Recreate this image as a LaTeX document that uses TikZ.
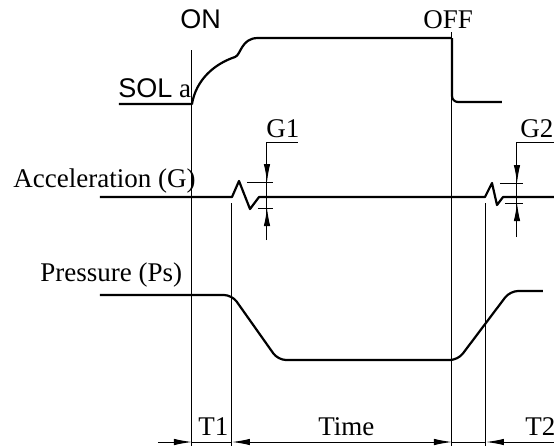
\documentclass[tikz,border=0pt]{standalone}
\usepackage{fontspec}
\setmainfont{Liberation Serif}
\setsansfont{Liberation Sans}
\usetikzlibrary{arrows.meta}

\begin{document}
\begin{tikzpicture}[
    x=0.5pt, y=-0.5pt,
    >={Latex[length=9pt,width=3.2pt]},
    font=\fontsize{13.5}{16}\selectfont,
    trace/.style={line width=1.1pt, line join=round},
    guide/.style={line width=0.5pt},
    lbl/.style={inner sep=0pt, anchor=base west}
  ]
  \useasboundingbox (0,0) rectangle (554,446);

  \def\tOn{192}
  \def\tA{232}
  \def\tOff{452}
  \def\tB{486}
  \def\yDim{442}

  % time marks
  \coordinate (OnTop) at (\tOn,50);
  \coordinate (ATop) at (\tA,203);
  \coordinate (OffTop) at (\tOff,32);
  \coordinate (BTop) at (\tB,203);
  \coordinate (DimL) at (158,\yDim);
  \coordinate (DimOn) at (\tOn,\yDim);
  \coordinate (DimA) at (\tA,\yDim);
  \coordinate (DimOff) at (\tOff,\yDim);
  \coordinate (DimB) at (\tB,\yDim);
  \coordinate (DimR) at (554,\yDim);

  \draw[guide] (OnTop) -- (\tOn,446);
  \draw[guide] (ATop) -- (\tA,446);
  \draw[guide] (OffTop) -- (\tOff,446);
  \draw[guide] (BTop) -- (\tB,446);

  % SOL a signal
  \draw[trace] (119,104) -- (\tOn,104)
    .. controls (196,80) and (214,64) .. (235,57)
    .. controls (241,55) and (241,38) .. (258,38) -- (\tOff,38);
  \draw[trace, rounded corners=3pt] (\tOff,38) -- (\tOff,102) -- (502,102);
  \node[lbl] (sol) at (118,97) {{\sffamily SOL} a};
  \node[lbl] (on) at (180,28) {\sffamily ON};
  \node[lbl] (off) at (423,28) {OFF};

  % acceleration
  \draw[trace] (100,197) -- (\tA,197) -- (239,181) -- (250,209) -- (259,197)
    -- (485,197) -- (492,183) -- (497,205) -- (503,197) -- (554,197);
  \node[lbl] (acc) at (13,187) {Acceleration (G)};

  % G1 and G2 gaps
  \coordinate (G1lead) at (298,142);
  \coordinate (G1top) at (267,142);
  \coordinate (G1hi) at (267,182);
  \coordinate (G1lo) at (267,208);
  \coordinate (G1bot) at (267,240);
  \draw[guide] (G1lead) -- (G1top) -- (G1bot);
  \draw[guide, ->] (G1top) -- (G1hi);
  \draw[guide, ->] (G1bot) -- (G1lo);
  \draw[guide] (247,182) -- (273,182) (258,208) -- (273,208);
  \node[lbl] (g1) at (266,137) {G1};

  \coordinate (G2lead) at (554,142);
  \coordinate (G2top) at (517,142);
  \coordinate (G2hi) at (517,183);
  \coordinate (G2lo) at (517,203);
  \coordinate (G2bot) at (517,237);
  \draw[guide] (G2lead) -- (G2top) -- (G2bot);
  \draw[guide, ->] (G2top) -- (G2hi);
  \draw[guide, ->] (G2bot) -- (G2lo);
  \draw[guide] (500,183) -- (523,183) (505,203) -- (523,203);
  \node[lbl] (g2) at (520,137) {G2};

  % pressure
  \draw[trace, rounded corners=4pt] (100,295) -- (\tA,295) -- (278,360)
    -- (458,360) -- (510,291) -- (543,291);
  \node[lbl] (ps) at (40,281) {Pressure (Ps)};

  % time dimensions
  \draw[guide, ->] (DimL) -- (DimOn);
  \draw[guide] (DimOn) -- (DimA);
  \draw[guide, <->] (DimA) -- (DimOff);
  \draw[guide] (DimOff) -- (DimB);
  \draw[guide, <-] (DimB) -- (DimR);
  \node[lbl] (t1) at (198,435) {T1};
  \node[lbl] (time) at (318,435) {Time};
  \node[lbl] (t2) at (525,435) {T2};
\end{tikzpicture}
\end{document}
